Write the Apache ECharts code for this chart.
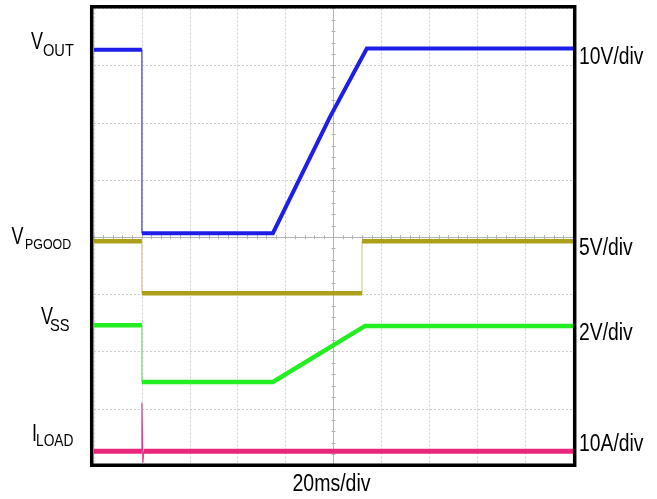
<!DOCTYPE html>
<html>
<head>
<meta charset="utf-8">
<script src="https://cdn.jsdelivr.net/npm/echarts@6/dist/echarts.min.js"></script>
<style>
html,body{margin:0;padding:0;background:#fff;}
#c{width:657px;height:499px;}
</style>
</head>
<body>
<div id="c"></div>
<script>
// Time axis: 0..200 ms (20 ms/div, 10 div). Vertical axis: screen divisions 0..8 from bottom.
const timeMin = 0, timeMax = 200, timeStep = 20;
const divMin = 0, divMax = 8, divStep = 1;

// Traces (time in ms, level in screen divisions)
const voutT   = [0, 20, 20, 74.7, 98.6, 113.9, 200];
const voutY   = [7.28, 7.28, 4.07, 4.07, 6.11, 7.30, 7.30];
const pgoodT  = [0, 20, 20, 111.9, 111.9, 200];
const pgoodY  = [3.93, 3.93, 3.02, 3.02, 3.93, 3.93];
const vssT    = [0, 20, 20, 74.7, 113.2, 200];
const vssY    = [2.46, 2.46, 1.47, 1.47, 2.45, 2.45];
const iloadT  = [0, 20, 20, 20.4, 20.8, 200];
const iloadY  = [0.26, 0.26, 1.105, 0.056, 0.26, 0.26];

// Labels
const traceMain = ['V', 'V', 'V', 'I'];
const traceSub  = ['OUT', 'PGOOD', 'SS', 'LOAD'];
const scaleLabels = ['10V/div', '5V/div', '2V/div', '10A/div'];
const timeLabel = '20ms/div';

const colors     = ['#1e1ee8', '#aca01a', '#22ee22', '#e8267c'];
const edgeColors = ['#3a3af0', '#d4cd8c', '#6ee06e', '#e0408e'];
const widths     = [4, 4.5, 4.5, 5];

const FONT = "'Liberation Sans', Arial, sans-serif";

function splitTrace(T, Y) {
  // levels: segments whose duration is >= 1 ms; edges: fast transitions
  const levels = [], edges = [];
  for (let i = 0; i < T.length - 1; i++) {
    const seg = [[T[i], Y[i]], [T[i + 1], Y[i + 1]]];
    const target = (T[i + 1] - T[i] >= 1) ? levels : edges;
    if (target.length) {
      const last = target[target.length - 1];
      if (last !== '-' && last[0] === seg[0][0] && last[1] === seg[0][1]) {
        target.push(seg[1]);
        continue;
      }
      target.push([T[i], '-']);
    }
    target.push(seg[0], seg[1]);
  }
  return { levels, edges };
}

const traces = [[voutT, voutY], [pgoodT, pgoodY], [vssT, vssY], [iloadT, iloadY]];
const series = [];
traces.forEach(function (tr, k) {
  const s = splitTrace(tr[0], tr[1]);
  series.push({
    type: 'line', data: s.edges, showSymbol: false, symbol: 'none',
    connectNulls: false, animation: false, silent: true, z: 3,
    lineStyle: { color: edgeColors[k], width: 1.2 }
  });
  series.push({
    type: 'line', data: s.levels, showSymbol: false, symbol: 'none',
    connectNulls: false, animation: false, silent: true, z: 4,
    lineStyle: { color: colors[k], width: widths[k], cap: 'butt', join: 'miter' }
  });
});

const GRID = { left: 94, top: 8.5, width: 479, height: 457.5 };
const halfW = GRID.width / 2, halfH = GRID.height / 2;

function centerX(pos) {
  return {
    type: 'value', min: timeMin, max: timeMax, interval: timeStep,
    position: pos, offset: -halfH,
    axisLine: { show: true, onZero: false, lineStyle: { color: '#b4b4b4', width: 1 } },
    axisTick: { show: true, length: 2, lineStyle: { color: '#b0b0b0' } },
    minorTick: { show: true, splitNumber: 5, length: 2, lineStyle: { color: '#b0b0b0' } },
    axisLabel: { show: false },
    splitLine: { show: pos === 'bottom', lineStyle: { color: '#cccccc', type: [2, 2], width: 1 } },
    minorSplitLine: { show: false }
  };
}
function centerY(pos) {
  return {
    type: 'value', min: divMin, max: divMax, interval: divStep,
    position: pos, offset: -halfW,
    axisLine: { show: true, onZero: false, lineStyle: { color: '#b4b4b4', width: 1 } },
    axisTick: { show: true, length: 2, lineStyle: { color: '#b0b0b0' } },
    minorTick: { show: true, splitNumber: 5, length: 2, lineStyle: { color: '#b0b0b0' } },
    axisLabel: { show: false },
    splitLine: { show: pos === 'left', lineStyle: { color: '#cccccc', type: [2, 2], width: 1 } },
    minorSplitLine: { show: false }
  };
}

// label positions and sizes (layout only)
const mainPos = [[31, 42.5], [11.5, 237.5], [41, 318], [32, 434.5]];
const subPos  = [[43, 51.5], [25, 245], [50, 326.5], [36, 441.5]];
const subSize = [17, 15.5, 17, 16];
const subScale = [0.86, 0.8, 0.86, 0.86];
const scalePosY = [57.5, 249, 334, 444.5];

function txt(x, y, t, size, sx, align) {
  return { type: 'text', x: x, y: y, z: 50, scaleX: sx, silent: true,
    style: { text: t, fontSize: size, fontFamily: FONT, fill: '#000',
      textAlign: align, textVerticalAlign: 'middle', align: align, verticalAlign: 'middle' } };
}

const graphics = [];
traceMain.forEach(function (t, k) {
  graphics.push(txt(mainPos[k][0], mainPos[k][1], t, 23, 0.78, 'left'));
  graphics.push(txt(subPos[k][0], subPos[k][1], traceSub[k], subSize[k], subScale[k], 'left'));
});
scaleLabels.forEach(function (t, k) {
  graphics.push(txt(579, scalePosY[k], t, 23, 0.84, 'left'));
});
graphics.push(txt(331.5, 485, timeLabel, 23, 0.85, 'center'));
graphics.push({ type: 'rect', z: 60, silent: true,
  shape: { x: 91.7, y: 6.7, width: 483, height: 458.6 },
  style: { fill: 'none', stroke: '#000', lineWidth: 3.5 } });

const chart = echarts.init(document.getElementById('c'), null, { renderer: 'canvas' });
chart.setOption({
  backgroundColor: '#ffffff',
  animation: false,
  grid: Object.assign({ outerBoundsMode: 'none', containLabel: false }, GRID),
  xAxis: [centerX('bottom'), centerX('top')],
  yAxis: [centerY('left'), centerY('right')],
  series: series,
  graphic: graphics
});
</script>
</body>
</html>
